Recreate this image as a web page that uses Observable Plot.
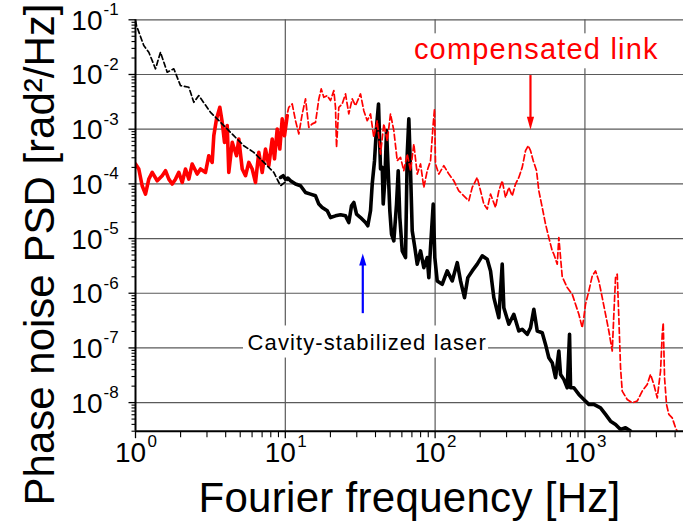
<!DOCTYPE html>
<html><head><meta charset="utf-8">
<script src="https://cdn.jsdelivr.net/npm/d3@7"></script>
<script src="https://cdn.jsdelivr.net/npm/@observablehq/plot@0.6"></script>
<style>body{margin:0;background:#fff;} svg{display:block;}</style>
</head><body><div id="chart"></div>
<script>
const FONT = '"Liberation Sans", Arial, Helvetica, sans-serif';

// ---- data (Fourier frequency in Hz, phase noise PSD in rad^2/Hz) ----
const blackDashHz = [1.0, 1.015, 1.136, 1.227, 1.36, 1.468, 1.628, 1.802, 1.997, 2.27, 2.45, 2.646, 3.17, 3.51, 4.09, 4.53, 5.28, 6.16, 7.19, 8.38, 9.29, 10.55];
const blackDashPSD = [0.095, 7.87e-2, 3.38e-2, 2.55e-2, 1.27e-2, 2.55e-2, 1.10e-2, 1.27e-2, 6.27e-3, 5.84e-3, 3.10e-3, 4.11e-3, 2.03e-3, 1.54e-3, 1.01e-3, 7.61e-4, 4.99e-4, 3.76e-4, 2.47e-4, 1.62e-4, 9.23e-5, 1.22e-4];

const redSolidHz = [1.0, 1.052, 1.108, 1.166, 1.227, 1.293, 1.396, 1.507, 1.586, 1.669, 1.758, 1.849, 1.946, 2.05, 2.157, 2.27, 2.39, 2.58, 2.716, 2.933, 3.086, 3.25, 3.332, 3.473, 3.655, 3.792, 3.928, 4.094, 4.196, 4.422, 4.722, 4.893, 5.157, 5.424, 5.706, 6.012, 6.324, 6.655, 7.012, 7.376, 7.759, 8.177, 8.47, 8.829, 9.19, 9.535, 9.879, 10.30];
const redSolidPSD = [2.31e-4, 1.87e-4, 9.23e-5, 6.50e-5, 1.22e-4, 1.62e-4, 1.14e-4, 1.41e-4, 1.74e-4, 1.22e-4, 9.91e-5, 1.22e-4, 1.62e-4, 1.06e-4, 1.87e-4, 1.22e-4, 2.31e-4, 1.51e-4, 1.87e-4, 1.62e-4, 3.27e-4, 2.47e-4, 7.61e-4, 1.54e-3, 2.51e-3, 1.33e-3, 5.73e-4, 1.16e-3, 1.62e-4, 5.73e-4, 3.27e-4, 6.61e-4, 1.87e-4, 1.41e-4, 2.47e-4, 1.87e-4, 1.06e-4, 3.76e-4, 1.62e-4, 4.33e-4, 2.15e-4, 6.61e-4, 2.87e-4, 1.01e-3, 4.33e-4, 1.54e-3, 7.61e-4, 1.77e-3];

const blackSolidHz = [9.29, 9.68, 10.03, 10.39, 10.83, 11.70, 12.64, 13.64, 14.73, 15.91,
  16.74, 17.63, 19.05, 20.03, 21.63, 23.36, 25.23, 26.54, 27.67, 28.67,
  29.88, 31.77, 34.31, 35.54, 37.05, 38.03, 39.40, 40.63, 41.90, 42.55,
  43.21, 44.36, 45.04, 46.17, 47.39, 48.64, 49.85, 51.17, 53.02, 55.26,
  56.72, 58.14, 60.32, 63.46, 65.15, 66.77, 68.53, 70.34, 73.21, 75.97,
  79.91, 84.07, 88.57, 90.78, 93.17, 97.12, 99.53, 103.3, 111.5, 120.4,
  130.1, 140.5, 147.8, 157.1, 165.3, 176.9, 191.0, 206.3, 222.8, 234.4,
  246.6, 266.3, 280.5, 287.5, 310.5, 335.2, 362.0, 381.4, 411.9, 433.3,
  456.0, 480.5, 518.8, 545.8, 574.2, 604.9, 636.5, 669.7, 687.4, 723.1,
  761.9, 789.4, 801.6, 843.3, 910.9, 983.3, 1062, 1147, 1271, 1373,
  1482, 1601, 1729, 1866, 2016];
const blackSolidPSD = [1.31e-4, 1.41e-4, 1.22e-4, 1.28e-4, 1.14e-4, 9.92e-5, 9.23e-5, 6.96e-5, 6.50e-5, 6.05e-5,
  4.27e-5, 3.70e-5, 3.22e-5, 2.42e-5, 2.60e-5, 2.72e-5, 2.60e-5, 1.96e-5, 3.97e-5, 4.56e-5,
  2.80e-5, 2.42e-5, 1.96e-5, 1.71e-5, 3.22e-5, 9.92e-5, 2.65e-4, 1.08e-3, 2.89e-3, 7.08e-4,
  1.87e-4, 2.00e-4, 4.27e-5, 1.14e-4, 9.39e-4, 1.74e-4, 3.22e-5, 1.20e-5, 9.08e-6, 4.27e-5,
  1.74e-4, 2.42e-5, 5.95e-6, 4.49e-6, 3.51e-4, 1.54e-3, 1.74e-4, 1.38e-5, 6.84e-6, 3.40e-6,
  5.95e-6, 2.94e-6, 4.49e-6, 1.93e-6, 6.84e-6, 4.27e-5, 4.49e-6, 1.68e-6, 1.46e-6, 2.56e-6,
  1.68e-6, 3.63e-6, 1.68e-6, 8.31e-7, 1.93e-6, 2.56e-6, 3.40e-6, 4.82e-6, 4.20e-6, 2.56e-6,
  8.31e-7, 3.57e-7, 3.40e-6, 5.45e-7, 2.71e-7, 4.12e-7, 2.04e-7, 2.19e-7, 1.77e-7, 2.34e-7,
  5.09e-7, 2.04e-7, 1.90e-7, 1.16e-7, 6.61e-8, 5.36e-8, 2.85e-8, 8.77e-8, 3.28e-8, 2.66e-8,
  1.87e-8, 1.77e-7, 1.87e-8, 1.87e-8, 1.41e-8, 1.14e-8, 9.27e-9, 9.27e-9, 8.03e-9, 6.08e-9,
  4.58e-9, 3.99e-9, 3.23e-9, 3.46e-9, 3.01e-9];

const redDashHz = [10.03, 10.55, 11.12, 11.70, 12.31, 12.97, 13.64, 14.35, 15.12, 15.91,
  16.74, 17.37, 18.07, 19.05, 20.03, 21.08, 21.63, 21.97, 22.76, 23.98,
  25.23, 26.54, 27.97, 29.42, 31.77, 33.42, 35.22, 37.05, 38.98, 41.07,
  43.21, 45.46, 47.89, 50.38, 53.02, 55.85, 58.75, 61.80, 65.15, 68.53,
  72.08, 75.97, 79.91, 84.07, 88.57, 93.17, 97.12, 99.08, 100.6, 105.9,
  114.3, 123.5, 133.3, 143.9, 155.5, 167.9, 176.9, 191.0, 201.0, 211.4,
  222.8, 234.4, 253.1, 266.3, 280.5, 295.1, 310.5, 327.1, 344.1, 362.0,
  381.4, 401.4, 418.4, 433.3, 451.8, 475.3, 492.4, 518.8, 545.8, 574.2,
  604.9, 620.2, 653.4, 669.7, 705.4, 761.9, 822.9, 865.6, 910.9, 959.4,
  983.3, 1009, 1062, 1119, 1177, 1238, 1305, 1373, 1444, 1522,
  1560, 1601, 1643, 1684, 1729, 1774, 1916, 2069, 2234, 2413,
  2606, 2741, 2884, 3039, 3197, 3281, 3332, 3400, 3506, 3632,
  3826, 4026, 4133];
const redDashPSD = [1.43e-3, 2.51e-3, 2.89e-3, 1.43e-3, 8.17e-4, 1.90e-3, 3.57e-3, 1.08e-3, 1.25e-3, 1.33e-3,
  3.57e-3, 5.45e-3, 3.82e-3, 4.11e-3, 3.33e-3, 5.07e-3, 2.51e-3, 4.64e-4, 2.51e-3, 2.89e-3,
  4.41e-3, 1.90e-3, 3.57e-3, 2.69e-3, 4.41e-3, 2.18e-3, 1.43e-3, 1.90e-3, 7.08e-4, 1.43e-3,
  3.51e-4, 1.25e-3, 6.16e-4, 1.90e-3, 9.39e-4, 2.65e-4, 3.04e-4, 1.74e-4, 3.51e-4, 1.74e-4,
  5.36e-4, 1.51e-4, 2.31e-4, 8.59e-5, 1.74e-4, 2.65e-4, 1.25e-3, 2.34e-3, 2.31e-4, 1.51e-4,
  2.15e-4, 1.51e-4, 1.14e-4, 7.47e-5, 6.05e-5, 4.90e-5, 8.59e-5, 1.31e-4, 7.47e-5, 4.27e-5,
  3.46e-5, 6.50e-5, 3.70e-5, 7.47e-5, 1.14e-4, 5.63e-5, 8.59e-5, 6.05e-5, 9.92e-5, 1.31e-4,
  2.00e-4, 4.04e-4, 4.99e-4, 4.04e-4, 2.65e-4, 1.74e-4, 7.47e-5, 3.70e-5, 1.84e-5, 1.04e-5,
  5.95e-6, 5.18e-6, 3.40e-6, 1.04e-5, 2.0e-6, 1.27e-6, 9.59e-7, 6.29e-7, 4.12e-7, 2.34e-7,
  3.57e-7, 6.29e-7, 1.10e-6, 2.07e-6, 2.56e-6, 1.68e-6, 8.31e-7, 4.12e-7, 2.04e-7, 8.77e-8,
  4.12e-7, 1.93e-6, 2.23e-6, 3.57e-7, 4.34e-8, 1.62e-8, 1.14e-8, 9.91e-9, 1.07e-8, 1.62e-8,
  2.15e-8, 3.28e-8, 2.15e-8, 1.22e-8, 3.77e-8, 1.77e-7, 2.89e-7, 2.85e-8, 9.27e-9, 6.08e-9,
  5.27e-9, 3.46e-9, 3.01e-9];

// axes
const xDomain = [1, 4550];
const yDomain = [3.0e-9, 0.1];
const xMajorTicks = [1, 10, 100, 1000];
const xExponents = ["0", "1", "2", "3"];
const yMajorTicks = [1e-8, 1e-7, 1e-6, 1e-5, 1e-4, 1e-3, 1e-2, 1e-1];
const yExponents = ["-8", "-7", "-6", "-5", "-4", "-3", "-2", "-1"];
const xTitle = "Fourier frequency [Hz]";
const yTitle = "Phase noise PSD [rad\u00B2/Hz]";
const redLabel = "compensated link";
const blackLabel = "Cavity-stabilized laser";

const xMinorTicks = [];
for (const d of [1, 10, 100, 1000]) for (let m = 2; m <= 9; m++) if (d * m <= xDomain[1]) xMinorTicks.push(d * m);
const yMinorTicks = [];
for (const d of [1e-9, 1e-8, 1e-7, 1e-6, 1e-5, 1e-4, 1e-3, 1e-2]) for (let m = 2; m <= 9; m++) if (d * m >= yDomain[0]) yMinorTicks.push(d * m);

const toRows = (xs, ys) => xs.map((f, i) => ({f, p: ys[i]}));
const blackDash = toRows(blackDashHz, blackDashPSD);
const redSolid = toRows(redSolidHz, redSolidPSD);
const blackSolid = toRows(blackSolidHz, blackSolidPSD);
const redDash = toRows(redDashHz, redDashPSD);

// custom symbols: tick marks and arrow heads
const hTick = len => ({draw(ctx) { ctx.moveTo(-len, 0); ctx.lineTo(0, 0); }});
const vTick = len => ({draw(ctx) { ctx.moveTo(0, 0); ctx.lineTo(0, len); }});
const headDown = {draw(ctx) { ctx.moveTo(0, 0); ctx.lineTo(-3.6, -13); ctx.lineTo(3.6, -13); ctx.closePath(); }};
const headUp = {draw(ctx) { ctx.moveTo(0, 0); ctx.lineTo(-3.6, 12); ctx.lineTo(3.6, 12); ctx.closePath(); }};

const GRID = "#5a5a5a";
const x0 = () => xDomain[0], y0 = () => yDomain[0];

const chart = Plot.plot({
  width: 683,
  height: 527,
  marginLeft: 135,
  marginRight: 0,
  marginTop: 19.3,
  marginBottom: 96.3,
  x: {type: "log", domain: xDomain, axis: null},
  y: {type: "log", domain: yDomain, axis: null},
  style: {background: "white", fontFamily: FONT, overflow: "visible"},
  marks: [
    // grid
    Plot.ruleY(yMajorTicks, {stroke: GRID, strokeWidth: 1.2}),
    Plot.ruleX(xMajorTicks.slice(1), {stroke: GRID, strokeWidth: 1.2}),
    // label backgrounds
    Plot.rect([0], {x1: () => 68.5, x2: () => 3296, y1: () => 5.54e-2, y2: () => 1.27e-2, fill: "white"}),
    Plot.rect([0], {x1: () => 5.26, x2: () => 227.3, y1: () => 2.52e-7, y2: () => 6.53e-8, fill: "white"}),
    // data
    Plot.line(blackSolid, {x: "f", y: "p", stroke: "black", strokeWidth: 3.6, strokeLinejoin: "round", clip: true}),
    Plot.line(redSolid, {x: "f", y: "p", stroke: "#ff0000", strokeWidth: 3.6, strokeLinejoin: "round", clip: true}),
    Plot.line(blackDash, {x: "f", y: "p", stroke: "black", strokeWidth: 1.7, strokeDasharray: "5,3", clip: true}),
    Plot.line(redDash, {x: "f", y: "p", stroke: "#ff0000", strokeWidth: 1.7, strokeDasharray: "6,3", clip: true}),
    // axes lines
    Plot.ruleX([xDomain[0]], {stroke: "black", strokeWidth: 2}),
    Plot.ruleY([yDomain[0]], {stroke: "black", strokeWidth: 2}),
    // ticks
    Plot.dot(yMajorTicks, {x: x0, y: d => d, symbol: hTick(7), stroke: "black", fill: "none", strokeWidth: 1.3}),
    Plot.dot(yMinorTicks, {x: x0, y: d => d, symbol: hTick(4), stroke: "black", fill: "none", strokeWidth: 1.1}),
    Plot.dot(xMajorTicks, {x: d => d, y: y0, symbol: vTick(7), stroke: "black", fill: "none", strokeWidth: 1.3}),
    Plot.dot(xMinorTicks, {x: d => d, y: y0, symbol: vTick(6), stroke: "black", fill: "none", strokeWidth: 1.1}),
    // tick labels
    Plot.text(yMajorTicks, {x: x0, y: d => d, text: () => "10", textAnchor: "end", dx: -33, dy: 1, fontSize: 28}),
    Plot.text(yMajorTicks, {x: x0, y: d => d, text: (d, i) => yExponents[i], textAnchor: "start", dx: -32, dy: -10, fontSize: 17}),
    Plot.text(xMajorTicks, {x: d => d, y: y0, text: () => "10", dx: -5, dy: 22, fontSize: 28}),
    Plot.text(xMajorTicks, {x: d => d, y: y0, text: (d, i) => xExponents[i], textAnchor: "start", dx: 12, dy: 10, fontSize: 17}),
    // axis titles
    Plot.text([xTitle], {frameAnchor: "bottom", textAnchor: "middle", lineAnchor: "middle", dy: 67, fontSize: 42}),
    Plot.text([yTitle], {frameAnchor: "left", textAnchor: "middle", lineAnchor: "middle", rotate: -90, dx: -95, dy: 29, fontSize: 42}),
    // annotations
    Plot.text([redLabel], {x: () => 473.8, y: () => 2.86e-2, fill: "#ff0000", fontSize: 29}),
    Plot.ruleX([433], {y1: 9.55e-3, y2: 1.5e-3, stroke: "#ff0000", strokeWidth: 2.2}),
    Plot.dot([0], {x: () => 433, y: () => 9.79e-4, symbol: headDown, fill: "#ff0000", stroke: "none"}),
    Plot.text([blackLabel], {x: () => 35.2, y: () => 1.21e-7, fill: "black", fontSize: 22}),
    Plot.ruleX([32.9], {y1: 4.23e-7, y2: 3.4e-6, stroke: "#0000ff", strokeWidth: 2.2}),
    Plot.dot([0], {x: () => 32.9, y: () => 5.31e-6, symbol: headUp, fill: "#0000ff", stroke: "none"})
  ]
});

d3.select(chart).selectAll("text").each(function() {
  const t = this.textContent;
  if (t === redLabel) d3.select(this).attr("letter-spacing", "1.2px");
  if (t === blackLabel) d3.select(this).attr("letter-spacing", "1.1px");
  if (t === xTitle) d3.select(this).attr("letter-spacing", "0.3px");
});
document.getElementById("chart").appendChild(chart);
</script>
</body></html>
